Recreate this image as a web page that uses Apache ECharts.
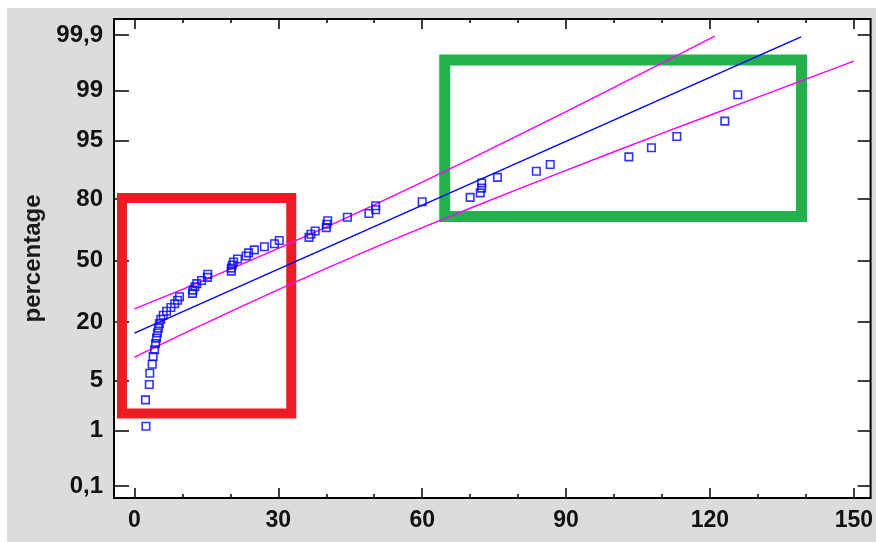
<!DOCTYPE html>
<html>
<head>
<meta charset="utf-8">
<script src="https://cdn.jsdelivr.net/npm/echarts@6/dist/echarts.min.js"></script>
<style>
html,body{margin:0;padding:0;background:#fff;width:876px;height:542px;overflow:hidden;}
#chart{position:absolute;left:7px;top:8px;width:869px;height:534px;}
</style>
</head>
<body>
<div id="chart"></div>
<script>
// ---- data ----
const probTickLabels = ['0,1', '1', '5', '20', '50', '80', '95', '99', '99,9'];
const probTickValues = [0.1, 1, 5, 20, 50, 80, 95, 99, 99.9];
const xTickValues = [0, 30, 60, 90, 120, 150];
const xMinorTickValues = [10, 20, 40, 50, 70, 80, 100, 110, 130, 140];

const sampleX = [2.4, 2.3, 3.1, 3.2, 3.7, 3.9, 4.2, 4.4, 4.6, 4.8, 5.0, 5.2, 5.5, 6.0, 6.7, 7.6, 8.4, 9.0, 9.4, 12.1,
  12.2, 12.6, 13.0, 14.0, 15.2, 15.3, 20.2, 20.2, 20.4, 20.7, 21.5, 23.3, 23.8, 25.0, 27.1, 29.2, 30.2, 36.4, 36.8, 37.7,
  40.0, 40.1, 40.3, 44.4, 48.9, 50.3, 50.3, 60.0, 70.0, 72.1, 72.4, 72.4, 75.7, 83.8, 86.7, 103.1, 107.8, 113.1, 123.1, 125.8];
const samplePct = [1.16, 2.81, 4.47, 6.13, 7.78, 9.44, 11.09, 12.75, 14.40, 16.06, 17.72, 19.37, 21.03, 22.68, 24.34, 25.99, 27.65, 29.30, 30.96, 32.62,
  34.27, 35.93, 37.58, 39.24, 40.89, 42.55, 44.21, 45.86, 47.52, 49.17, 50.83, 52.48, 54.14, 55.79, 57.45, 59.11, 60.76, 62.42, 64.07, 65.73,
  67.38, 69.04, 70.70, 72.35, 74.01, 75.66, 77.32, 78.97, 80.63, 82.28, 83.94, 85.60, 87.25, 88.91, 90.56, 92.22, 93.87, 95.53, 97.19, 98.84];

const fitX = [0, 139];
const fitPct = [16.0, 99.89];

const upperX = [0, 10, 20, 30, 40, 50, 60, 70, 80, 90, 100, 110, 120, 121];
const upperPct = [25.36, 34.64, 45.26, 56.55, 67.65, 77.67, 85.82, 91.76, 95.67, 97.93, 99.113, 99.657, 99.882, 99.894];
const lowerX = [0, 10, 20, 30, 40, 50, 60, 70, 80, 90, 100, 110, 120, 130, 140, 150];
const lowerPct = [9.26, 15.65, 24.20, 34.50, 45.74, 56.95, 67.33, 76.30, 83.58, 89.14, 93.18, 95.91, 97.67, 98.739, 99.352, 99.685];

// annotation boxes: [xFrom, pctFrom, xTo, pctTo]
const redBox = [-2.6, 80.4, 32.7, 1.80];
const greenBox = [64.7, 99.70, 139.1, 72.67];

// ---- probability scale helper (inverse standard normal CDF) ----
function normInv(p) {
  const a = [-3.969683028665376e+01, 2.209460984245205e+02, -2.759285104469687e+02, 1.383577518672690e+02, -3.066479806614716e+01, 2.506628277459239e+00];
  const b = [-5.447609879822406e+01, 1.615858368580409e+02, -1.556989798598866e+02, 6.680131188771972e+01, -1.328068155288572e+01];
  const c = [-7.784894002430293e-03, -3.223964580411365e-01, -2.400758277161838e+00, -2.549732943343193e+00, 4.374664141464968e+00, 2.938163982698783e+00];
  const d = [7.784695709041462e-03, 3.224671290700398e-01, 2.445134137142996e+00, 3.754408661907416e+00];
  const pl = 0.02425, ph = 1 - pl;
  let q, r;
  if (p < pl) {
    q = Math.sqrt(-2 * Math.log(p));
    return (((((c[0]*q+c[1])*q+c[2])*q+c[3])*q+c[4])*q+c[5]) / ((((d[0]*q+d[1])*q+d[2])*q+d[3])*q+1);
  }
  if (p <= ph) {
    q = p - 0.5; r = q * q;
    return (((((a[0]*r+a[1])*r+a[2])*r+a[3])*r+a[4])*r+a[5])*q / (((((b[0]*r+b[1])*r+b[2])*r+b[3])*r+b[4])*r+1);
  }
  q = Math.sqrt(-2 * Math.log(1 - p));
  return -(((((c[0]*q+c[1])*q+c[2])*q+c[3])*q+c[4])*q+c[5]) / ((((d[0]*q+d[1])*q+d[2])*q+d[3])*q+1);
}
const pz = pct => normInv(pct / 100);
const pairs = (xs, ps) => xs.map((x, i) => [x, pz(ps[i])]);

const zTicks = probTickValues.map(pz);
const X_MIN = -4.26, X_MAX = 153.5;
const Z_MIN = -3.253, Z_MAX = 3.308;

const FONT = 'Liberation Sans';
const tickStyle = {color: '#000', width: 1.5};

function xAx(pos, values, len, labels) {
  return {
    type: 'value', position: pos, min: X_MIN, max: X_MAX,
    axisLine: {show: false, onZero: false}, splitLine: {show: false},
    axisTick: {show: true, inside: true, length: len, customValues: values, lineStyle: tickStyle},
    axisLabel: labels ? {show: true, customValues: values, margin: 11, fontSize: 23, fontWeight: 'bold', fontFamily: FONT, color: '#111'} : {show: false}
  };
}

const chart = echarts.init(document.getElementById('chart'), null, {renderer: 'canvas'});
chart.setOption({
  backgroundColor: '#dcdcdc',
  animation: false,
  grid: {left: 107, top: 11, right: 2, bottom: 44, show: true, backgroundColor: '#fff', borderColor: '#000', borderWidth: 2},
  xAxis: [
    xAx('bottom', xTickValues, 10, true),
    xAx('bottom', xMinorTickValues, 4, false),
    xAx('top', xTickValues, 10, false),
    xAx('top', xMinorTickValues, 4, false)
  ],
  yAxis: [
    {
      type: 'value', position: 'left', min: Z_MIN, max: Z_MAX,
      axisLine: {show: false, onZero: false}, splitLine: {show: false},
      axisTick: {show: true, inside: true, length: 15, customValues: zTicks, lineStyle: tickStyle},
      axisLabel: {
        show: true, customValues: zTicks, margin: 11, fontSize: 24, fontWeight: 'bold', fontFamily: FONT, color: '#111',
        formatter: v => { const i = zTicks.findIndex(z => Math.abs(z - v) < 1e-6); return i >= 0 ? probTickLabels[i] : ''; }
      },
      name: 'percentage', nameLocation: 'middle', nameGap: 66, nameRotate: 90,
      nameTextStyle: {fontSize: 24, fontWeight: 'bold', fontFamily: FONT, color: '#1a1a1a'}
    },
    {
      type: 'value', position: 'right', min: Z_MIN, max: Z_MAX,
      axisLine: {show: false, onZero: false}, splitLine: {show: false},
      axisTick: {show: true, inside: true, length: 13, customValues: zTicks, lineStyle: tickStyle},
      axisLabel: {show: false}
    }
  ],
  series: [
    {type: 'line', data: pairs(lowerX, lowerPct), showSymbol: false, symbol: 'none', lineStyle: {color: '#ff00ff', width: 1.4}, z: 2},
    {type: 'line', data: pairs(upperX, upperPct), showSymbol: false, symbol: 'none', lineStyle: {color: '#ff00ff', width: 1.4}, z: 2},
    {type: 'line', data: pairs(fitX, fitPct), showSymbol: false, symbol: 'none', lineStyle: {color: '#0000ff', width: 1.4}, z: 3},
    {type: 'scatter', data: pairs(sampleX, samplePct), symbol: 'rect', symbolSize: 7.5,
      itemStyle: {color: 'rgba(0,0,0,0)', borderColor: '#0000ff', borderWidth: 1.6}, z: 4},
    {type: 'scatter', data: [], z: 10,
      markArea: {
        silent: true,
        data: [
          [{coord: [redBox[0], pz(redBox[1])], itemStyle: {color: 'rgba(0,0,0,0)', borderColor: '#ed1c24', borderWidth: 10}},
           {coord: [redBox[2], pz(redBox[3])]}],
          [{coord: [greenBox[0], pz(greenBox[1])], itemStyle: {color: 'rgba(0,0,0,0)', borderColor: '#22b14c', borderWidth: 11}},
           {coord: [greenBox[2], pz(greenBox[3])]}]
        ]
      }
    }
  ]
});
</script>
</body>
</html>
